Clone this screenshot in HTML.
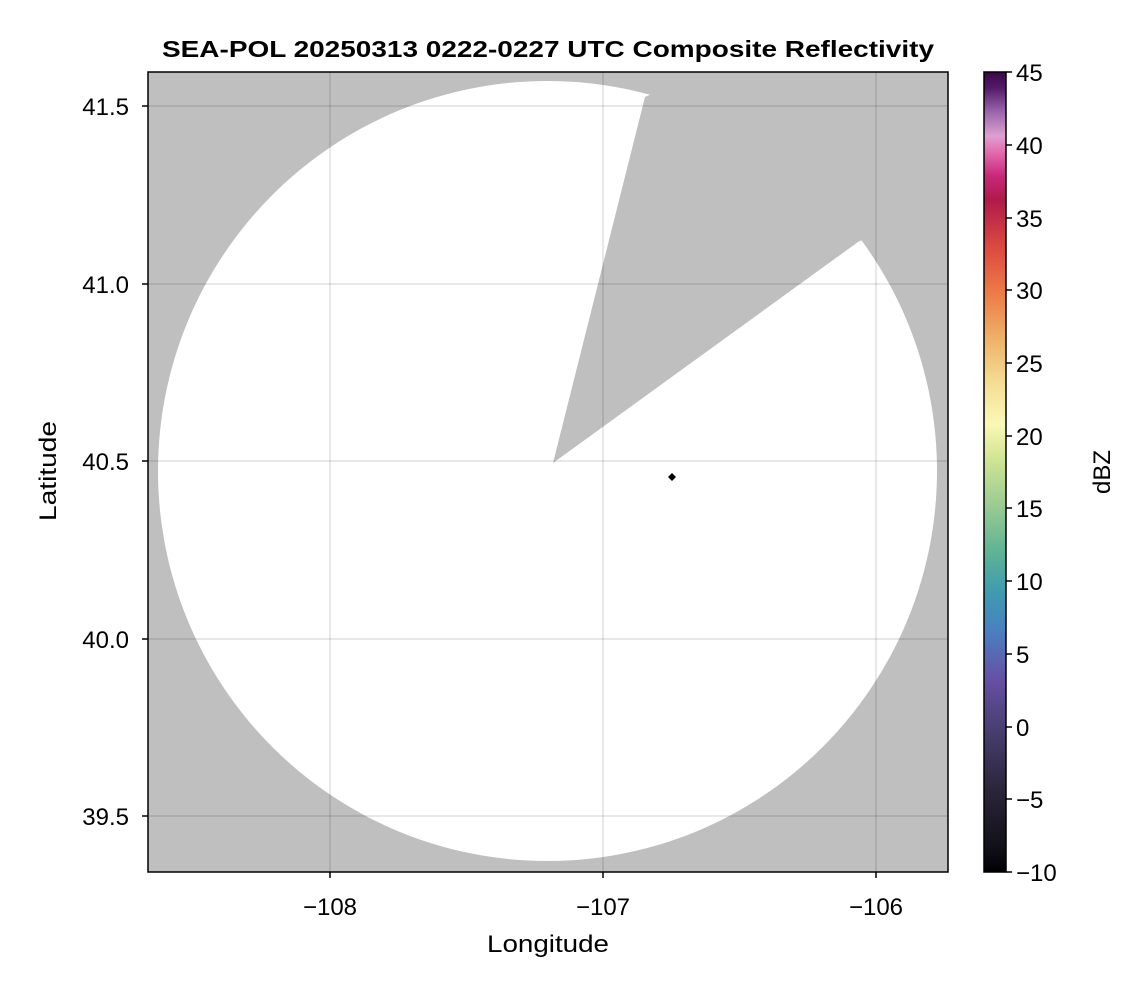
<!DOCTYPE html>
<html><head><style>body{margin:0;background:#fff}svg{display:block}</style></head><body>
<svg width="1146" height="990" xmlns="http://www.w3.org/2000/svg" font-family="'Liberation Sans',Arial,sans-serif">
<defs>
<clipPath id="c"><rect x="148" y="72" width="800" height="800"/></clipPath>
<linearGradient id="cb" x1="0" y1="1" x2="0" y2="0">
<stop offset="0" stop-color="#000004"/>
<stop offset="0.03" stop-color="#111018"/>
<stop offset="0.1" stop-color="#2a2438"/>
<stop offset="0.17" stop-color="#453c6a"/>
<stop offset="0.24" stop-color="#6650a4"/>
<stop offset="0.3" stop-color="#4a7fc0"/>
<stop offset="0.35" stop-color="#3f9bb0"/>
<stop offset="0.4" stop-color="#5fb394"/>
<stop offset="0.46" stop-color="#9ccc92"/>
<stop offset="0.52" stop-color="#d4e694"/>
<stop offset="0.56" stop-color="#fbf8b6"/>
<stop offset="0.61" stop-color="#f4de94"/>
<stop offset="0.67" stop-color="#eeae66"/>
<stop offset="0.72" stop-color="#ee7e48"/>
<stop offset="0.78" stop-color="#dc4a40"/>
<stop offset="0.84" stop-color="#b01a4a"/>
<stop offset="0.87" stop-color="#c82878"/>
<stop offset="0.9" stop-color="#e46cae"/>
<stop offset="0.92" stop-color="#dea0cf"/>
<stop offset="0.95" stop-color="#9a66ac"/>
<stop offset="0.98" stop-color="#561a68"/>
<stop offset="1" stop-color="#3a0848"/>
</linearGradient>
</defs>
<text x="548" y="57" text-anchor="middle" font-size="23" font-weight="bold" textLength="772" lengthAdjust="spacingAndGlyphs">SEA-POL 20250313 0222-0227 UTC Composite Reflectivity</text>
<g clip-path="url(#c)">
<rect x="148" y="72" width="800" height="800" fill="#bfbfbf"/>
<ellipse cx="547.5" cy="471" rx="389.5" ry="390" fill="#fff"/>
<polygon points="553,463 645,97 700,72 948,72 948,200 858,242" fill="#bfbfbf"/>
<g stroke="#000" stroke-opacity="0.12" stroke-width="1.5">
<line x1="330" y1="72" x2="330" y2="872"/><line x1="603" y1="72" x2="603" y2="872"/><line x1="876" y1="72" x2="876" y2="872"/>
<line x1="148" y1="106" x2="948" y2="106"/><line x1="148" y1="284" x2="948" y2="284"/><line x1="148" y1="461" x2="948" y2="461"/><line x1="148" y1="639" x2="948" y2="639"/><line x1="148" y1="816" x2="948" y2="816"/>
</g>
<polygon points="672,473 676,477 672,481 668,477" fill="#000"/>
</g>
<rect x="148" y="72" width="800" height="800" fill="none" stroke="#000" stroke-width="1.5"/>
<g stroke="#000" stroke-width="1.5">
<line x1="330" y1="872" x2="330" y2="878"/><line x1="603" y1="872" x2="603" y2="878"/><line x1="876" y1="872" x2="876" y2="878"/>
<line x1="142" y1="106" x2="148" y2="106"/><line x1="142" y1="284" x2="148" y2="284"/><line x1="142" y1="461" x2="148" y2="461"/><line x1="142" y1="639" x2="148" y2="639"/><line x1="142" y1="816" x2="148" y2="816"/>
</g>
<g font-size="24" text-anchor="middle">
<text x="330" y="915">−108</text><text x="603" y="915">−107</text><text x="876" y="915">−106</text>
<text x="548" y="952" textLength="122" lengthAdjust="spacingAndGlyphs">Longitude</text>
</g>
<g font-size="24" text-anchor="end">
<text x="129" y="115">41.5</text><text x="129" y="293">41.0</text><text x="129" y="470">40.5</text><text x="129" y="648">40.0</text><text x="129" y="825">39.5</text>
</g>
<text transform="translate(56,471) rotate(-90)" font-size="24" text-anchor="middle" textLength="100" lengthAdjust="spacingAndGlyphs">Latitude</text>
<rect x="984" y="72" width="22" height="800" fill="url(#cb)" stroke="#000" stroke-width="1.5"/>
<g stroke="#000" stroke-width="1.5">
<line x1="1006" y1="72" x2="1012" y2="72"/><line x1="1006" y1="145" x2="1012" y2="145"/><line x1="1006" y1="218" x2="1012" y2="218"/><line x1="1006" y1="290" x2="1012" y2="290"/><line x1="1006" y1="363" x2="1012" y2="363"/><line x1="1006" y1="436" x2="1012" y2="436"/><line x1="1006" y1="508" x2="1012" y2="508"/><line x1="1006" y1="581" x2="1012" y2="581"/><line x1="1006" y1="654" x2="1012" y2="654"/><line x1="1006" y1="727" x2="1012" y2="727"/><line x1="1006" y1="799" x2="1012" y2="799"/><line x1="1006" y1="872" x2="1012" y2="872"/>
</g>
<g font-size="24">
<text x="1016" y="81">45</text><text x="1016" y="154">40</text><text x="1016" y="227">35</text><text x="1016" y="299">30</text><text x="1016" y="372">25</text><text x="1016" y="445">20</text><text x="1016" y="517">15</text><text x="1016" y="590">10</text><text x="1016" y="663">5</text><text x="1016" y="736">0</text><text x="1016" y="808">−5</text><text x="1016" y="881">−10</text>
</g>
<text transform="translate(1110,472) rotate(-90)" font-size="24" text-anchor="middle">dBZ</text>
</svg>
</body></html>
